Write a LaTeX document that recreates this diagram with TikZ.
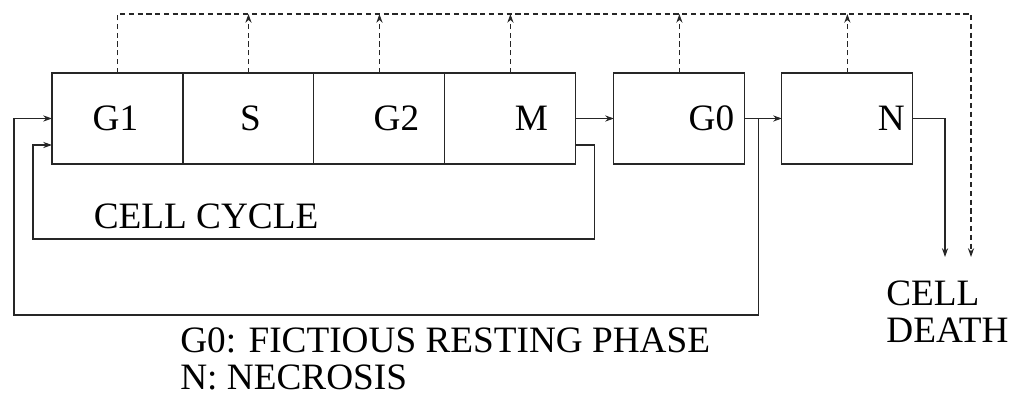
\documentclass[tikz,border=0pt]{standalone}
\usepackage{fontspec}
\setmainfont{Liberation Serif}
\usetikzlibrary{arrows.meta, positioning, calc}

\begin{document}
\begin{tikzpicture}[
  x=0.02cm, y=-0.02cm,
  every node/.style={font=\fontsize{21.2}{21.5}\selectfont},
  phase/.style={rectangle, draw=black!85, line width=0.6pt, outer sep=0pt,
                minimum width=2.62cm, minimum height=1.82cm},
  txt/.style={inner sep=0pt, align=left},
  arr/.style={draw=black!85, line width=0.6pt, -{Stealth[length=5pt, width=3.5pt]}},
  dsh/.style={arr, dash pattern=on 3pt off 2pt},
]
  \useasboundingbox (0,0) rectangle (1016,398);

  % boxes of the cycle
  \node[phase] (g1) at (117.5,118.5) {};
  \node[phase, right=0cm of g1] (s) {};
  \node[phase, right=0cm of s] (g2) {};
  \node[phase, right=0cm of g2] (m) {};
  \node[phase, right=0.76cm of m] (g0) {};
  \node[phase, right=0.74cm of g0] (n) {};

  \node (g1txt) at ([xshift=-0.04cm]g1.center) {G1};
  \node (stxt) at ([xshift=0.04cm]s.center) {S};
  \node (g2txt) at ([xshift=0.34cm]g2.center) {G2};
  \node (mtxt) at ([xshift=0.42cm]m.center) {M};
  \node (g0txt) at ([xshift=0.64cm]g0.center) {G0};
  \node[anchor=east] (ntxt) at ([xshift=-0.04cm]n.east) {N};

  \node[txt] (cyctxt) at (206,216) {CELL CYCLE};
  \node[txt, anchor=north west] (death) at (886,280) {CELL\\DEATH};
  \node[txt, anchor=north west] (legend) at (180,327)
    {G0: FICTIOUS RESTING PHASE\\N: NECROSIS};

  % corners of the loops
  \coordinate (cycloop) at (33,239);
  \coordinate (g0out) at ([xshift=0.28cm]g0.east);
  \coordinate (restloop) at (14,315);
  \coordinate (nend) at (945,257);
  \coordinate (dtop) at (971,14);
  \coordinate (dend) at (971,257);

  \draw[arr] (m.east) -- (g0.west);
  \draw[arr] (g0.east) -- (n.west);
  \draw[arr] ([yshift=-0.53cm]m.east) -- ++(19,0) |- (cycloop) |- ([yshift=-0.53cm]g1.west);
  \draw[arr] (g0out) |- (restloop) |- (g1.west);
  \draw[arr] (n.east) -| (nend);

  % dashed lines to cell death
  \draw[dsh] (g1.north) |- (dtop) -- (dend);
  \foreach \b in {s, g2, m, g0, n}
    \draw[dsh] (\b.north) -- (\b.north |- dtop);
\end{tikzpicture}
\end{document}
